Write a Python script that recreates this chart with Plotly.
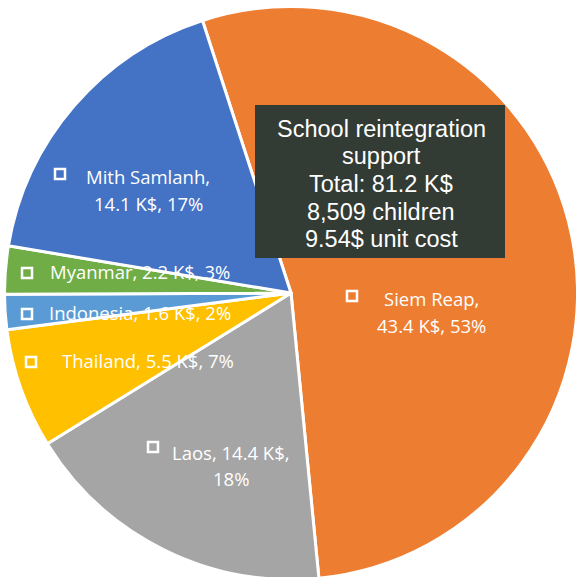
import plotly.graph_objects as go

W, H = 578, 582

categories = ["Siem Reap", "Laos", "Thailand", "Indonesia", "Myanmar", "Mith Samlanh"]
values = [43.4, 14.4, 5.5, 1.6, 2.2, 14.1]
percents = ["53%", "18%", "7%", "2%", "3%", "17%"]
colors = ["#ED7D31", "#A5A5A5", "#FFC000", "#5B9BD5", "#70AD47", "#4472C4"]

box_lines = ["School reintegration", "support", "Total: 81.2 K$", "8,509 children", "9.54$ unit cost"]

# label layout: (category index, list of (line text, x center px, y center px), key square center px)
label_layout = [
    (0, [("Siem Reap,", 431, 298), ("43.4 K$, 53%", 431, 325)], (352, 296)),
    (1, [("Laos, 14.4 K$,", 231, 452), ("18%", 231, 478)], (153, 447)),
    (2, [("Thailand, 5.5 K$, 7%", 148, 360)], (31, 362)),
    (3, [("Indonesia, 1.6 K$, 2%", 140, 312)], (27, 314)),
    (4, [("Myanmar, 2.2 K$, 3%", 140, 271)], (27, 273)),
    (5, [("Mith Samlanh,", 148, 176), ("14.1 K$, 17%", 148, 203)], (60, 174)),
]


def px(x):
    return x / W


def py(y):
    return 1 - y / H


fig = go.Figure(
    go.Pie(
        labels=categories,
        values=values,
        sort=False,
        direction="clockwise",
        rotation=-18,
        marker=dict(colors=colors, line=dict(color="white", width=3)),
        textinfo="none",
        domain=dict(x=[px(4.5), px(577.5)], y=[py(579.5), py(6.5)]),
        showlegend=False,
    )
)

annotations = []
shapes = []
for idx, lines, (kx, ky) in label_layout:
    for text, cx, cy in lines:
        annotations.append(dict(
            x=px(cx), y=py(cy), xref="paper", yref="paper",
            text=text, showarrow=False, xanchor="center", yanchor="middle",
            font=dict(family="Open Sans", size=18.5, color="white"),
        ))
    s = 5
    shapes.append(dict(
        type="rect", xref="paper", yref="paper",
        x0=px(kx - s), x1=px(kx + s), y0=py(ky + s), y1=py(ky - s),
        line=dict(color="white", width=2.5), fillcolor=colors[idx],
    ))

# info box
shapes.append(dict(
    type="rect", xref="paper", yref="paper",
    x0=px(255), x1=px(505), y0=py(258), y1=py(105),
    line=dict(width=0), fillcolor="#323B34",
))
for i, t in enumerate(box_lines):
    annotations.append(dict(
        x=px(381), y=py(129 + i * 27.5), xref="paper", yref="paper",
        text=t, showarrow=False, xanchor="center", yanchor="middle",
        font=dict(family="Liberation Sans", size=23.5, color="white"),
    ))

fig.update_layout(
    width=W, height=H,
    margin=dict(l=0, r=0, t=0, b=0),
    paper_bgcolor="white",
    shapes=shapes,
    annotations=annotations,
)

fig.write_html("out.html", config={"displayModeBar": False},
               post_script="document.body.style.margin='0';document.body.style.overflow='hidden';document.documentElement.style.overflow='hidden';")
